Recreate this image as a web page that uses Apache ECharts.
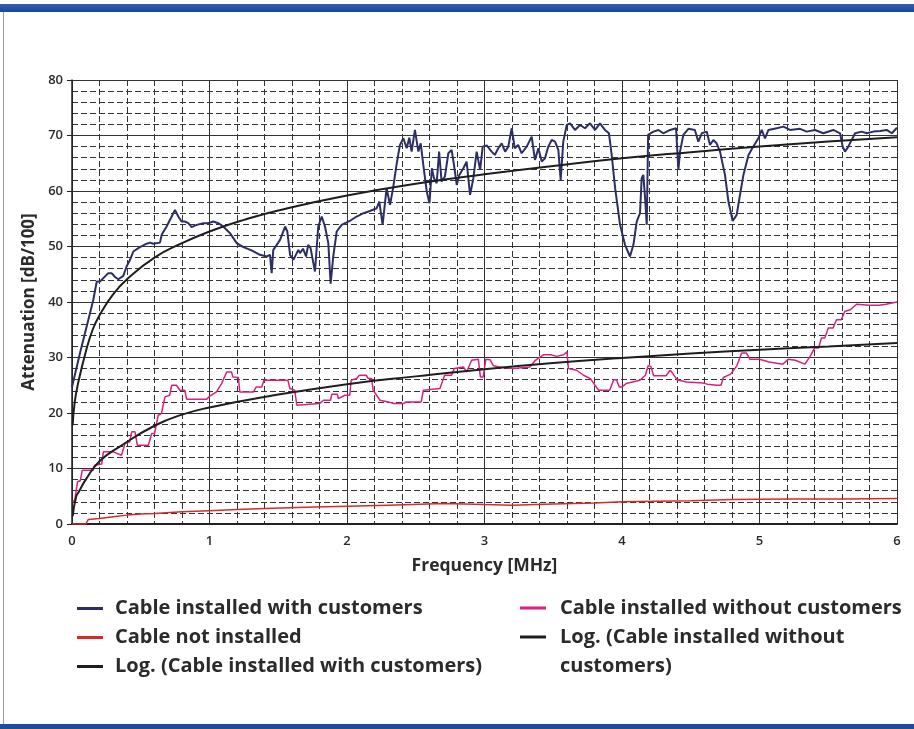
<!DOCTYPE html>
<html>
<head>
<meta charset="utf-8">
<script src="https://cdn.jsdelivr.net/npm/echarts@6/dist/echarts.min.js"></script>
<style>
  html, body { margin: 0; padding: 0; background: #fff; }
  #chart { width: 914px; height: 729px; }
</style>
</head>
<body>
<div id="chart"></div>
<script>
// values, [frequency MHz, attenuation dB/100]
const withCustomers = [
  [0,24.7],[0.06,31],[0.119,36.8],[0.155,40.4],[0.18,43.7],[0.204,43.7],[0.228,44.3],[0.264,45.2],[0.288,45.2],
  [0.313,44.5],[0.337,44.1],[0.373,44.7],[0.397,46.4],[0.422,47.6],[0.446,49.1],[0.494,49.9],[0.543,50.5],
  [0.567,50.7],[0.591,50.5],[0.64,50.7],[0.652,52.1],[0.688,53.6],[0.725,55.4],[0.749,56.6],[0.773,55.4],
  [0.797,54.5],[0.82,54.5],[0.846,54.2],[0.87,53.5],[0.907,53.9],[0.955,54.2],[0.991,54.2],[1.028,54.5],
  [1.064,54.2],[1.1,53.6],[1.149,52.4],[1.198,50.6],[1.246,49.9],[1.306,49.3],[1.367,48.5],[1.416,48.2],
  [1.44,48.5],[1.452,45.2],[1.464,49.4],[1.489,50.3],[1.513,51.2],[1.55,53.6],[1.566,52.7],[1.586,48.5],
  [1.61,47.6],[1.646,49.4],[1.658,48.8],[1.68,49.6],[1.702,48.2],[1.718,50.3],[1.735,49.7],[1.767,45.5],
  [1.791,53.6],[1.816,55.4],[1.84,53.6],[1.864,50.6],[1.881,43.3],[1.9,48.2],[1.925,52.7],[1.961,53.9],
  [2.02,54.6],[2.07,55.4],[2.12,56.0],[2.167,56.4],[2.216,56.9],[2.235,58.1],[2.259,53.9],[2.288,60.5],
  [2.313,57.5],[2.337,60.8],[2.36,64.7],[2.385,68.3],[2.41,69.5],[2.434,67.7],[2.453,69.6],[2.47,67.1],
  [2.494,71.0],[2.519,67.1],[2.536,68.6],[2.555,64.7],[2.58,59.9],[2.6,57.8],[2.617,64.1],[2.633,62.3],
  [2.652,61.4],[2.67,67.1],[2.688,61.7],[2.712,62.6],[2.737,66.8],[2.761,67.4],[2.778,64.7],[2.798,61.1],
  [2.817,62.9],[2.846,64.1],[2.87,65.3],[2.895,59.3],[2.919,62.3],[2.943,67.1],[2.968,63.8],[2.987,68.0],
  [3.016,68.2],[3.052,67.1],[3.075,66.5],[3.1,67.7],[3.125,68.6],[3.15,67.1],[3.173,68.0],[3.198,71.3],
  [3.22,67.7],[3.245,68.3],[3.27,66.8],[3.307,68.0],[3.343,69.8],[3.367,65.6],[3.392,67.7],[3.416,65.3],
  [3.44,65.9],[3.464,68.0],[3.489,69.2],[3.513,68.9],[3.537,67.4],[3.554,62.0],[3.573,68.9],[3.598,71.9],
  [3.622,72.2],[3.658,71.0],[3.695,71.9],[3.731,71.3],[3.767,72.2],[3.804,71.0],[3.84,72.2],[3.876,71.0],
  [3.905,70.4],[3.925,66.5],[3.95,60.5],[3.986,53.9],[4.022,50.3],[4.058,48.2],[4.083,50.3],[4.107,54.5],
  [4.131,56.0],[4.143,62.3],[4.155,62.9],[4.168,58.7],[4.18,53.9],[4.19,70.1],[4.228,70.7],[4.265,71.0],
  [4.3,70.4],[4.35,71.0],[4.393,71.3],[4.41,63.8],[4.422,67.1],[4.446,70.1],[4.483,71.2],[4.53,71.0],
  [4.555,68.9],[4.58,70.4],[4.616,70.7],[4.64,68.3],[4.664,69.2],[4.688,68.6],[4.713,67.1],[4.749,62.9],
  [4.774,58.1],[4.805,54.6],[4.834,55.7],[4.858,59.3],[4.883,62.9],[4.92,66.5],[4.955,68.0],[4.992,69.5],
  [5.016,71.0],[5.04,69.5],[5.065,71.0],[5.125,71.3],[5.174,71.6],[5.222,71.0],[5.295,71.2],[5.343,70.7],
  [5.404,71.0],[5.464,70.4],[5.537,71.0],[5.586,70.4],[5.605,68.0],[5.622,67.1],[5.646,68.0],[5.695,70.4],
  [5.743,70.7],[5.78,70.4],[5.828,70.7],[5.877,70.8],[5.925,71.0],[5.962,70.4],[6.0,71.4]
];

const notInstalled = [
  [0,0],[0.1,0],[0.118,0.8],[0.2,1.0],[0.3,1.3],[0.4,1.6],[0.5,1.8],[0.6,1.9],[0.8,2.2],[1.0,2.4],
  [1.2,2.6],[1.4,2.8],[1.7,3.0],[2.0,3.2],[2.3,3.4],[2.7,3.7],[3.0,3.5],[3.2,3.4],[3.5,3.6],[3.8,3.8],
  [4.0,4.0],[4.5,4.2],[4.8,4.4],[5.2,4.5],[5.6,4.5],[6.0,4.6]
];

const withoutCustomers = [
  [0.005,4.0],[0.02,4.3],[0.04,7.6],[0.06,7.8],[0.075,9.7],[0.155,9.7],[0.165,10.6],[0.216,10.8],[0.228,13.0],
  [0.30,13.0],[0.31,12.7],[0.36,12.4],[0.385,14.5],[0.42,14.8],[0.434,16.6],[0.458,16.6],[0.475,14.2],
  [0.555,14.2],[0.58,16.3],[0.60,16.3],[0.627,19.6],[0.65,19.9],[0.676,22.9],[0.71,23.2],[0.725,25.0],
  [0.76,25.0],[0.785,24.1],[0.82,24.1],[0.834,22.5],[0.98,22.5],[1.0,23.0],[1.05,23.8],[1.088,25.3],
  [1.125,27.4],[1.16,27.4],[1.17,26.5],[1.21,26.4],[1.22,23.8],[1.32,23.8],[1.34,24.7],[1.38,24.7],
  [1.396,25.9],[1.57,25.9],[1.585,24.4],[1.62,24.1],[1.635,21.4],[1.80,21.7],[1.83,22.3],[1.88,22.3],
  [1.89,23.4],[1.93,23.4],[1.937,22.6],[1.985,23.2],[2.02,23.2],[2.03,25.9],[2.07,26.2],[2.09,26.8],
  [2.14,26.8],[2.155,26.2],[2.18,26.2],[2.19,24.1],[2.24,22.3],[2.30,22.0],[2.34,21.7],[2.41,21.7],
  [2.43,22.0],[2.54,22.0],[2.555,24.1],[2.676,24.4],[2.71,26.8],[2.76,26.8],[2.78,28.0],[2.846,28.3],
  [2.87,27.4],[2.906,29.5],[2.955,29.7],[2.97,26.5],[2.99,26.5],[3.01,29.7],[3.04,29.6],[3.065,28.5],
  [3.11,28.3],[3.21,28.0],[3.33,28.3],[3.37,29.5],[3.43,30.5],[3.48,30.5],[3.525,30.2],[3.575,30.5],
  [3.60,31.0],[3.61,28.0],[3.67,27.7],[3.72,26.8],[3.77,26.2],[3.83,24.1],[3.91,24.1],[3.94,26.0],
  [3.96,26.0],[3.98,24.7],[4.0,24.7],[4.03,25.3],[4.13,25.9],[4.17,26.8],[4.19,28.5],[4.21,28.4],
  [4.23,26.7],[4.32,26.7],[4.35,27.7],[4.37,27.1],[4.40,26.0],[4.47,25.6],[4.59,25.4],[4.62,25.2],
  [4.69,25.0],[4.72,25.0],[4.737,26.4],[4.79,27.0],[4.835,28.5],[4.87,30.8],[4.905,30.8],[4.93,29.7],
  [5.0,29.7],[5.07,29.2],[5.17,28.8],[5.21,29.7],[5.26,29.5],[5.33,28.8],[5.37,30.3],[5.40,31.7],
  [5.43,31.7],[5.45,33.5],[5.475,33.5],[5.50,35.3],[5.535,35.3],[5.56,36.8],[5.595,36.8],[5.62,38.3],
  [5.66,38.6],[5.706,39.6],[5.80,39.4],[5.87,39.4],[5.92,39.6],[6.0,40.0]
];

const logWithCustomers = [
  [0.005,17.8],[0.02,22.0],[0.05,26.0],[0.1,31.0],[0.15,35.0],[0.2,37.6],[0.3,41.4],[0.4,44.1],[0.6,48.0],
  [0.8,50.6],[1.0,52.7],[1.25,54.8],[1.5,56.5],[2.0,59.2],[2.5,61.3],[3.0,63.0],[3.5,64.5],[4.0,65.9],
  [4.5,67.0],[5.0,68.0],[5.5,68.9],[6.0,69.7]
];

const logWithoutCustomers = [
  [0.005,1.4],[0.03,4.9],[0.05,5.8],[0.1,8.0],[0.2,11.3],[0.35,14.0],[0.6,17.7],[0.8,19.7],[1.0,21.0],
  [1.4,22.9],[2.0,25.2],[2.5,26.6],[3.0,27.9],[3.5,29.0],[4.0,29.9],[4.5,30.7],[5.0,31.4],[5.5,32.0],[6.0,32.6]
];

const names = [
  'Cable installed with customers',
  'Cable not installed',
  'Log. (Cable installed with customers)',
  'Cable installed without customers',
  'Log. (Cable installed without customers)'
];

const chart = echarts.init(document.getElementById('chart'));

const legendText = {
  fontFamily: 'Open Sans',
  fontWeight: 'bold',
  fontSize: 20,
  color: '#2b2b2b',
  lineHeight: 29
};

// one legend box per column entry, so the wrapped last entry keeps its line on the first row
function legendBox(left, top, items, pad) {
  return {
    orient: 'vertical', left: left, top: top,
    itemWidth: 26, itemHeight: 3, itemGap: 0, icon: 'rect',
    data: items,
    textStyle: Object.assign({}, legendText, { padding: pad }),
    selectedMode: false
  };
}

// the empty first line keeps the text's first row level with the legend line
const lastLegend = legendBox(515, 588.5, [names[4]], [0, 0, 0, 9]);
lastLegend.formatter = () => '\nLog. (Cable installed without\ncustomers)';

const option = {
  backgroundColor: '#fff',
  animation: false,
  graphic: [
    { type: 'rect', shape: { x: 0, y: 4, width: 914, height: 8 },
      style: { fill: new echarts.graphic.LinearGradient(0, 0, 0, 1, [
        { offset: 0, color: '#2f62b5' }, { offset: 1, color: '#1b4797' }]) } },
    { type: 'rect', shape: { x: 0, y: 724, width: 914, height: 5 }, style: { fill: '#1d4c9e' } },
    { type: 'line', shape: { x1: 3.5, y1: 12, x2: 3.5, y2: 724 }, style: { stroke: '#9a9a9a', lineWidth: 1 } }
  ],
  grid: { left: 72, right: 17, top: 80, bottom: 205 },
  legend: [
    legendBox(72, 589, names.slice(0, 3), [0, 0, 0, 7]),
    legendBox(515, 588.5, [names[3]], [0, 0, 0, 9]),
    lastLegend
  ],
  xAxis: {
    type: 'value', min: 0, max: 6, interval: 1,
    name: 'Frequency [MHz]', nameLocation: 'middle', nameGap: 33,
    nameTextStyle: { fontFamily: 'Open Sans', fontWeight: 'bold', fontSize: 17.5, color: '#2b2b2b' },
    axisLine: { show: true, onZero: false, lineStyle: { color: '#222', width: 2 } },
    axisTick: { show: false },
    axisLabel: { margin: 11, fontFamily: 'Open Sans', fontWeight: 600, fontSize: 13, color: '#2b2b2b' },
    splitLine: { show: true, lineStyle: { color: '#333', width: 1 } },
    minorTick: { show: false, splitNumber: 5 },
    minorSplitLine: { show: true, lineStyle: { color: '#333', width: 1, type: [6, 3] } }
  },
  yAxis: {
    type: 'value', min: 0, max: 80, interval: 10,
    name: 'Attenuation [dB/100]', nameLocation: 'middle', nameGap: 32,
    nameTextStyle: { fontFamily: 'Open Sans', fontWeight: 'bold', fontSize: 17, color: '#2b2b2b' },
    axisLine: { show: true, lineStyle: { color: '#222', width: 1.5 } },
    axisTick: { show: true, length: 5, lineStyle: { color: '#222' } },
    axisLabel: { margin: 9, fontFamily: 'Open Sans', fontWeight: 600, fontSize: 13, color: '#2b2b2b' },
    splitLine: { show: true, lineStyle: { color: '#333', width: 1 } },
    minorTick: { show: false, splitNumber: 5 },
    minorSplitLine: { show: true, lineStyle: { color: '#333', width: 1, type: [6, 3] } }
  },
  series: [
    { name: names[0], type: 'line', data: withCustomers, symbol: 'none', color: '#2c2e66',
      lineStyle: { color: '#2c2e66', width: 2 }, z: 4 },
    { name: names[1], type: 'line', data: notInstalled, symbol: 'none', color: '#d92a2a',
      lineStyle: { color: '#d92a2a', width: 1.5 }, z: 3 },
    { name: names[2], type: 'line', data: logWithCustomers, symbol: 'none', smooth: true, color: '#1e1e1e',
      lineStyle: { color: '#1e1e1e', width: 2 }, z: 5 },
    { name: names[3], type: 'line', data: withoutCustomers, symbol: 'none', color: '#d8207f',
      lineStyle: { color: '#d8207f', width: 1.5 }, z: 3 },
    { name: names[4], type: 'line', data: logWithoutCustomers, symbol: 'none', smooth: true, color: '#1e1e1e',
      lineStyle: { color: '#1e1e1e', width: 2 }, z: 5 }
  ]
};

chart.setOption(option);
</script>
</body>
</html>
